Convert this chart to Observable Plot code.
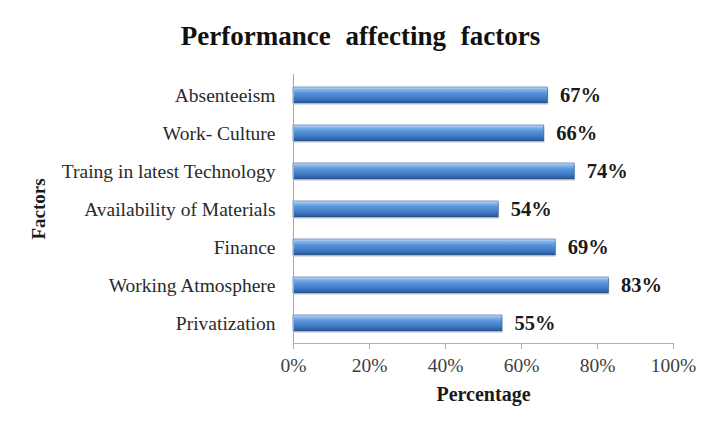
<!DOCTYPE html>
<html>
<head>
<meta charset="utf-8">
<script src="https://cdn.jsdelivr.net/npm/d3@7"></script>
<script src="https://cdn.jsdelivr.net/npm/@observablehq/plot@0.6"></script>
<style>
  html, body { margin: 0; padding: 0; background: #fff; }
  #chart svg { display: block; }
  #chart svg text { font-family: 'Liberation Serif', 'DejaVu Serif', serif; }
  #chart svg .title-text text { word-spacing: 8px; }
</style>
</head>
<body>
<div id="chart"></div>
<script>
const factors = [
  "Absenteeism",
  "Work- Culture",
  "Traing in latest Technology",
  "Availability of Materials",
  "Finance",
  "Working Atmosphere",
  "Privatization"
];
const percentages = [0.67, 0.66, 0.74, 0.54, 0.69, 0.83, 0.55];
const xTicks = [0, 0.2, 0.4, 0.6, 0.8, 1.0];
const titleText = "Performance affecting factors";
const xLabel = "Percentage";
const yLabel = "Factors";

const data = factors.map((f, i) => ({factor: f, value: percentages[i]}));
const serif = "'Liberation Serif', 'DejaVu Serif', serif";

const gradient = () => {
  const ns = "http://www.w3.org/2000/svg";
  const defs = document.createElementNS(ns, "defs");
  const lg = document.createElementNS(ns, "linearGradient");
  lg.setAttribute("id", "barGrad");
  lg.setAttribute("x1", "0"); lg.setAttribute("y1", "0");
  lg.setAttribute("x2", "0"); lg.setAttribute("y2", "1");
  [["0%", "#d2e4f8"], ["14%", "#8ab8ec"], ["35%", "#5b97dc"], ["70%", "#3f7cc6"], ["90%", "#2f62a6"], ["100%", "#244e88"]]
    .forEach(([o, c]) => {
      const s = document.createElementNS(ns, "stop");
      s.setAttribute("offset", o);
      s.setAttribute("stop-color", c);
      lg.appendChild(s);
    });
  defs.appendChild(lg);
  return defs;
};

const chart = Plot.plot({
  width: 720,
  height: 431,
  marginTop: 74,
  marginBottom: 88,
  marginLeft: 293,
  marginRight: 47,
  style: {fontFamily: serif, background: "#fff"},
  x: {domain: [0, 1]},
  y: {domain: factors, paddingInner: 0.58, paddingOuter: 0.29},
  marks: [
    gradient,
    Plot.barX(data, {x: "value", y: "factor", fill: "#000", fillOpacity: 0.12, dx: 1, dy: 2}),
    Plot.barX(data, {x: "value", y: "factor", fill: "url(#barGrad)", stroke: "#2b5a96", strokeWidth: 0.6}),
    Plot.ruleX([0], {stroke: "#a8a8a8"}),
    Plot.frame({anchor: "bottom", stroke: "#b0b0b0"}),
    Plot.axisX({ticks: xTicks, tickFormat: d3.format(".0%"), tickSize: 6, tickPadding: 9, stroke: "#b0b0b0", fill: "#404040", fontSize: 19.5, fontFamily: serif, label: null}),
    Plot.axisY({tickSize: 0, tickPadding: 18, fill: "#2a2a2a", fontSize: 19.5, fontFamily: serif, label: null}),
    Plot.text(data, {x: "value", y: "factor", text: d => d3.format(".0%")(d.value), textAnchor: "start", dx: 12, fontWeight: "bold", fontSize: 20.5, fontFamily: serif, fill: "#1a1a1a"}),
    Plot.text([yLabel], {frameAnchor: "left", textAnchor: "middle", dx: -255, rotate: -90, fontWeight: "bold", fontSize: 19, fontFamily: serif, fill: "#1a1a1a"}),
    Plot.text([xLabel], {frameAnchor: "bottom", dy: 57, fontWeight: "bold", fontSize: 20, fontFamily: serif, fill: "#1a1a1a"}),
    Plot.text([titleText], {frameAnchor: "top", dx: -123, dy: -49, fontWeight: "bold", fontSize: 27, fontFamily: serif, fill: "#111", className: "title-text"})
  ]
});
document.getElementById("chart").appendChild(chart);
</script>
</body>
</html>
